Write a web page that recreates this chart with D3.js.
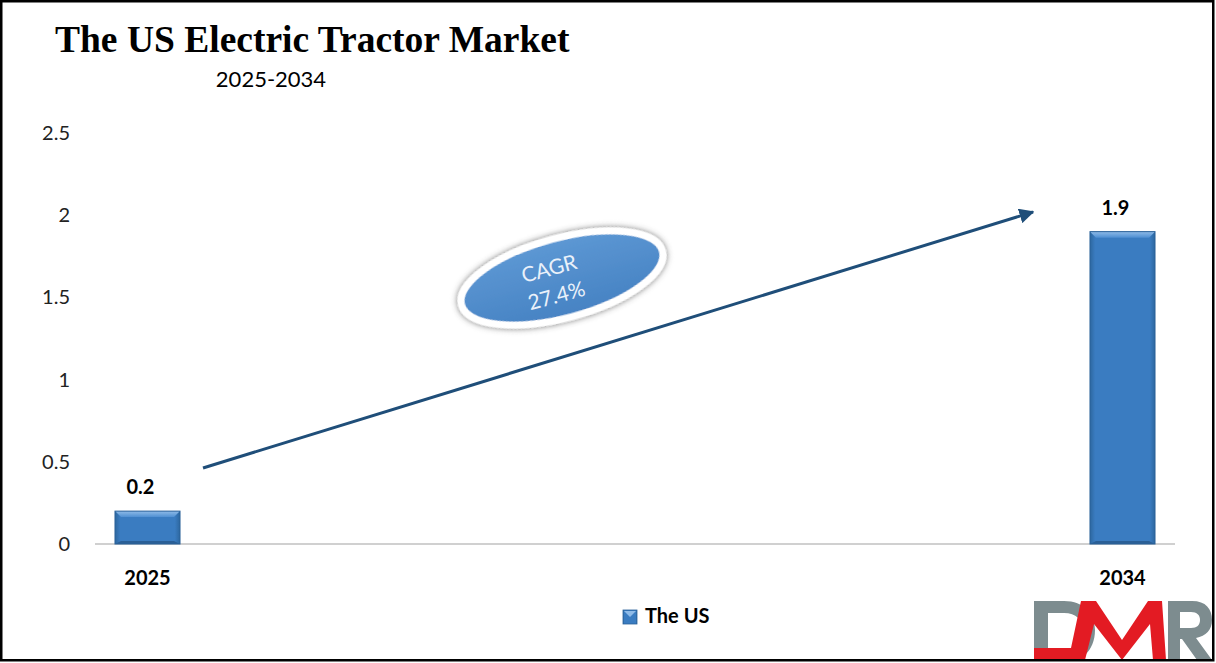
<!DOCTYPE html>
<html><head><meta charset="utf-8">
<script src="https://cdn.jsdelivr.net/npm/d3@7"></script>
<style>body{margin:0;background:#fff}svg{display:block}</style>
</head><body>
<script>
const categories = ["2025", "2034"];
const values = [0.2, 1.9];
const yTicks = [0, 0.5, 1, 1.5, 2, 2.5];
const seriesName = "The US";
const cagrLabel = ["CAGR", "27.4%"];
const titleText = "The US Electric Tractor Market";
const subtitleText = "2025-2034";

const W = 1216, H = 663;
const svg = d3.select("body").append("svg").attr("width", W).attr("height", H);
const defs = svg.append("defs");

const x = d3.scaleBand().domain(categories).range([95, 1175]).paddingInner(0.9333).paddingOuter(0.0205);
const y = d3.scaleLinear().domain([0, 2.5]).range([544, 133]);

// gradients
const bg = defs.append("linearGradient").attr("id", "barg").attr("x1", 0).attr("x2", 1).attr("y1", 0).attr("y2", 0);
bg.append("stop").attr("offset", 0).attr("stop-color", "#2d679f");
bg.append("stop").attr("offset", 0.08).attr("stop-color", "#3a7cc1");
bg.append("stop").attr("offset", 0.92).attr("stop-color", "#3a7cc1");
bg.append("stop").attr("offset", 1).attr("stop-color", "#2d679f");
const tg = defs.append("linearGradient").attr("id", "topg").attr("x1", 0).attr("x2", 0).attr("y1", 0).attr("y2", 1);
tg.append("stop").attr("offset", 0).attr("stop-color", "#8fbbe8");
tg.append("stop").attr("offset", 1).attr("stop-color", "#4f8fd2");
const eg = defs.append("linearGradient").attr("id", "ellg").attr("x1", 0).attr("x2", 0).attr("y1", 0).attr("y2", 1);
eg.append("stop").attr("offset", 0).attr("stop-color", "#5d98d4");
eg.append("stop").attr("offset", 1).attr("stop-color", "#4682c3");
const sh = defs.append("filter").attr("id", "shadow").attr("x", "-30%").attr("y", "-30%").attr("width", "160%").attr("height", "160%");
sh.append("feDropShadow").attr("dx", 0).attr("dy", 0).attr("stdDeviation", 3).attr("flood-color", "#444").attr("flood-opacity", 0.75);
const mk = defs.append("marker").attr("id", "arr").attr("viewBox", "0 0 10 10").attr("refX", 9).attr("refY", 5)
  .attr("markerWidth", 5).attr("markerHeight", 5).attr("orient", "auto").attr("markerUnits", "strokeWidth");
mk.append("path").attr("d", "M0,0 L10,5 L0,10 z").attr("fill", "#1f4e79");

// title
svg.append("text").attr("x", 55).attr("y", 52).text(titleText)
  .attr("font-family", "'Liberation Serif', 'Times New Roman', serif").attr("font-weight", "bold").attr("font-size", 37.5).attr("fill", "#000");
svg.append("text").attr("x", 271).attr("y", 87).attr("text-anchor", "middle").text(subtitleText)
  .attr("font-family", "Lato, 'Open Sans', sans-serif").attr("font-size", 22).attr("fill", "#000");

// y axis labels
svg.append("g").selectAll("text").data(yTicks).join("text")
  .attr("x", 70).attr("y", d => y(d)).attr("dy", "0.35em").attr("text-anchor", "end")
  .attr("font-family", "Lato, 'Open Sans', sans-serif").attr("font-size", 20).attr("fill", "#222")
  .text(d => d);

// baseline
svg.append("line").attr("x1", 95).attr("x2", 1175).attr("y1", y(0)).attr("y2", y(0)).attr("stroke", "#c0c0c0").attr("stroke-width", 1.5);

// bars
const bars = svg.append("g");
categories.forEach((c, i) => {
  const x0 = x(c), bw = x.bandwidth(), y0 = y(values[i]), h = y(0) - y0;
  bars.append("rect").attr("x", x0).attr("y", y0).attr("width", bw).attr("height", h).attr("fill", "url(#barg)");
  const b = 6;
  bars.append("path").attr("d", `M${x0},${y0} L${x0 + bw},${y0} L${x0 + bw - b},${y0 + b} L${x0 + b},${y0 + b} Z`).attr("fill", "url(#topg)");
  bars.append("path").attr("d", `M${x0},${y0 + h} L${x0 + bw},${y0 + h} L${x0 + bw - b},${y0 + h - 3} L${x0 + b},${y0 + h - 3} Z`).attr("fill", "#2a5f96");
  bars.append("rect").attr("x", x0).attr("y", y0).attr("width", bw).attr("height", h).attr("fill", "none").attr("stroke", "#2b6299").attr("stroke-width", 1);
});

// value labels
svg.append("g").selectAll("text").data(categories).join("text")
  .attr("x", d => x(d) + x.bandwidth() / 2 - 7).attr("y", (d, i) => y(values[i]) - 17)
  .attr("text-anchor", "middle").attr("font-family", "Lato, 'Open Sans', sans-serif").attr("font-weight", "bold").attr("font-size", 20).attr("fill", "#000")
  .text((d, i) => values[i]);

// x labels
svg.append("g").selectAll("text").data(categories).join("text")
  .attr("x", d => x(d) + x.bandwidth() / 2).attr("y", 585)
  .attr("text-anchor", "middle").attr("font-family", "Lato, 'Open Sans', sans-serif").attr("font-weight", "bold").attr("font-size", 20).attr("fill", "#000")
  .text(d => d);

// arrow from first to last bar
svg.append("line").attr("x1", 203).attr("y1", 468).attr("x2", 1033).attr("y2", 212)
  .attr("stroke", "#1f4e79").attr("stroke-width", 3).attr("marker-end", "url(#arr)");

// CAGR ellipse
const eG = svg.append("g").attr("transform", "translate(562,278) rotate(-15)");
eG.append("ellipse").attr("rx", 104).attr("ry", 40).attr("fill", "url(#ellg)").attr("stroke", "#fff").attr("stroke-width", 7).attr("filter", "url(#shadow)");
eG.selectAll("text").data(cagrLabel).join("text")
  .attr("x", -10).attr("y", (d, i) => i === 0 ? -5 : 23).attr("text-anchor", "middle")
  .attr("font-family", "Lato, 'Open Sans', sans-serif").attr("font-size", 21).attr("fill", "#eaf1fa").text(d => d);

// legend
const lg = svg.append("g").attr("transform", "translate(623,610)");
lg.append("rect").attr("width", 14).attr("height", 14).attr("fill", "url(#barg)").attr("stroke", "#2b6299").attr("stroke-width", 0.8);
lg.append("path").attr("d", "M1,1 L13,1 L7,7 Z").attr("fill", "#8fbbe8");
lg.append("text").attr("x", 22).attr("y", 13).text(seriesName)
  .attr("font-family", "Lato, 'Open Sans', sans-serif").attr("font-weight", "bold").attr("font-size", 20).attr("fill", "#000");

// DMR logo
const logo = svg.append("g");
logo.append("path").attr("d", "M1034,601 L1064,601 C1084,601 1095,614 1095,630 C1095,641 1091,649 1086,654 L1080,640 C1082,637 1083,634 1083,630 C1083,620 1076,613 1064,613 L1048,613 L1048,648 L1034,648 Z").attr("fill", "#7d8c8f");
logo.append("path").attr("d", "M1034,648 L1071,648 L1081,601 L1096,601 L1122,640 L1148,601 L1162,601 L1166,660 L1153,660 L1150,624 L1122,660 L1094,624 L1085,660 L1034,660 Z").attr("fill", "#e31b23");
logo.append("path").attr("d", "M1168,601 L1192,601 C1206,601 1212,609 1212,620 C1212,630 1206,636 1196,638 L1212,660 L1197,660 L1182,639 L1180,639 L1180,660 L1168,660 Z M1180,612 L1180,628 L1191,628 C1197,628 1200,625 1200,620 C1200,615 1197,612 1191,612 Z").attr("fill", "#7d8c8f").attr("fill-rule", "evenodd");

// border
svg.append("rect").attr("x", 1.25).attr("y", 1.25).attr("width", 1212).attr("height", 659).attr("fill", "none").attr("stroke", "#000").attr("stroke-width", 2.5);
</script>
</body></html>
